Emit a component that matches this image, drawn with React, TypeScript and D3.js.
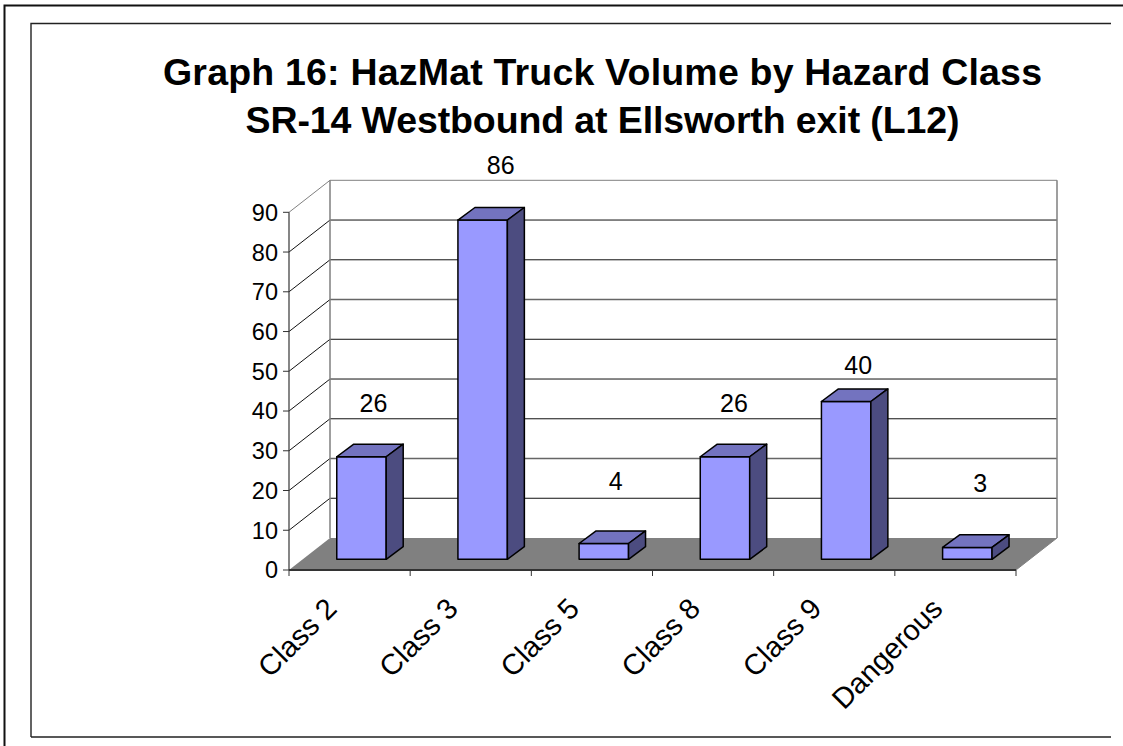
import React from 'react';
import * as d3 from 'd3';

const categories = ['Class 2', 'Class 3', 'Class 5', 'Class 8', 'Class 9', 'Dangerous'];
const volumes = [26, 86, 4, 26, 40, 3];
const yTicks = [0, 10, 20, 30, 40, 50, 60, 70, 80, 90];
const titleLines = ['Graph 16: HazMat Truck Volume by Hazard Class', 'SR-14 Westbound at Ellsworth exit (L12)'];
const titleWidths = [879, 714];
// hand placed data labels: gap above the bar and nudge from its centre
const labelGaps = [54, 55, 63, 54, 37, 64];
const labelNudges = [12, 18, 12, 9, 12, 13];
// these two gridlines come out softer in the original
const softGrid = [20, 60];

const width = 1123;
const height = 746;
const font = '"Liberation Sans", Arial, sans-serif';

// plot box, front plane
const left = 289;
const right = 1016;
const bottom = 570;
const top = 212.3;
// how far the back wall sits from the front plane
const wallDx = 41;
const wallDy = -32;
// bar front face / bar depth relative to the front plane
const barDx = 11.9;
const barBase = 559.3;
const barDepthX = 17;
const barDepthY = -12.6;

const wallGrey = '#808080';

export default function App() {
  const x = d3.scaleBand<string>().domain(categories).range([left, right]).paddingInner(0.592).paddingOuter(0.296);
  const step = x.step();
  const y = d3.scaleLinear().domain([0, 90]).range([bottom, top]);
  const barH = d3.scaleLinear().domain([0, 90]).range([0, 355]);
  const poly = (pts: [number, number][]) => d3.line()(pts) + 'Z';

  return (
    <svg width={width} height={height} style={{ position: 'absolute', left: 0, top: 0, background: '#fff' }}>
      {/* page frames */}
      <path d={`M4.5,${height}V5.5H${width}`} fill="none" stroke="#111" strokeWidth={2} />
      <path d="M31,737V23.5H1111M31,737H1111" fill="none" stroke="#222" strokeWidth={1.4} />

      {titleLines.map((t, i) => (
        <text
          key={t}
          x={602.5}
          y={85 + i * 48}
          textAnchor="middle"
          textLength={titleWidths[i]}
          lengthAdjust="spacing"
          fontFamily={font}
          fontWeight="bold"
          fontSize={37.5}
          fill="#000"
        >
          {t}
        </text>
      ))}

      {/* floor */}
      <path
        d={poly([[left, bottom], [left + wallDx, bottom + wallDy], [right + wallDx, bottom + wallDy], [right, bottom]])}
        fill={wallGrey}
      />

      {/* grid on back and side walls */}
      {yTicks.slice(1).map((t) => (
        <g key={t} fill="none" strokeWidth={1}>
          <line x1={left} y1={y(t)} x2={left + wallDx} y2={y(t) + wallDy} stroke={t === 90 ? wallGrey : '#111'} />
          <line
            x1={left + wallDx}
            y1={y(t) + wallDy}
            x2={right + wallDx}
            y2={y(t) + wallDy}
            stroke={t === 90 ? wallGrey : softGrid.includes(t) ? '#666' : '#111'}
            strokeWidth={softGrid.includes(t) ? 1.4 : 1}
          />
        </g>
      ))}
      <path
        d={`M${left + wallDx},${bottom + wallDy}V${top + wallDy}M${right + wallDx},${bottom + wallDy}V${top + wallDy}`}
        stroke={wallGrey}
        strokeWidth={1.5}
        fill="none"
      />

      {/* axes */}
      <line x1={left} y1={top} x2={left} y2={bottom} stroke="#444" strokeWidth={1.3} />
      <line x1={left} y1={bottom} x2={right} y2={bottom} stroke="#333" strokeWidth={2} />
      <line x1={right} y1={bottom} x2={right + wallDx} y2={bottom + wallDy} stroke={wallGrey} strokeWidth={1} />
      {yTicks.map((t) => (
        <g key={t}>
          <line x1={left - 6} y1={y(t)} x2={left} y2={y(t)} stroke="#333" strokeWidth={1} />
          <text x={left - 11} y={y(t)} dy="0.36em" textAnchor="end" fontFamily={font} fontSize={23.5} fill="#000">
            {t}
          </text>
        </g>
      ))}
      {d3.range(categories.length + 1).map((i) => (
        <line key={i} x1={left + i * step} y1={bottom} x2={left + i * step} y2={bottom + 6} stroke="#333" strokeWidth={1} />
      ))}
      {categories.map((c, i) => {
        const tx = left + (i + 0.5) * step - 18.5;
        const ty = bottom + 33;
        return (
          <text key={c} transform={`translate(${tx},${ty}) rotate(-45)`} textAnchor="end" dy="0.36em" fontFamily={font} fontSize={29} fill="#000">
            {c}
          </text>
        );
      })}

      {/* bars */}
      {categories.map((c, i) => {
        const x0 = (x(c) as number) + barDx;
        const x1 = x0 + x.bandwidth();
        const yt = barBase - barH(volumes[i]);
        return (
          <g key={c} stroke="#000" strokeWidth={1.5} strokeLinejoin="round">
            <path d={poly([[x0, barBase], [x0, yt], [x1, yt], [x1, barBase]])} fill="#9999ff" />
            <path d={poly([[x0, yt], [x0 + barDepthX, yt + barDepthY], [x1 + barDepthX, yt + barDepthY], [x1, yt]])} fill="#7373bf" />
            <path d={poly([[x1, barBase], [x1, yt], [x1 + barDepthX, yt + barDepthY], [x1 + barDepthX, barBase + barDepthY]])} fill="#4c4c80" />
            <text
              x={(x0 + x1) / 2 + labelNudges[i]}
              y={yt - labelGaps[i]}
              dy="0.36em"
              textAnchor="middle"
              fontFamily={font}
              fontSize={25}
              fill="#000"
              stroke="none"
            >
              {volumes[i]}
            </text>
          </g>
        );
      })}
    </svg>
  );
}
